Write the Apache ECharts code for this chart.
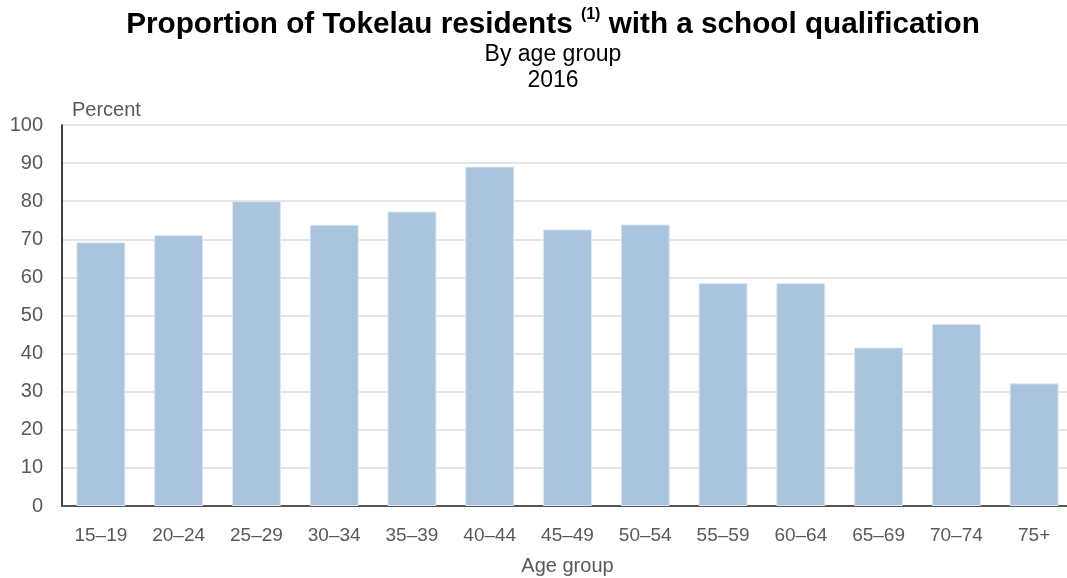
<!DOCTYPE html>
<html>
<head>
<meta charset="utf-8">
<script src="https://cdn.jsdelivr.net/npm/echarts@6/dist/echarts.min.js"></script>
<style>
  html, body { margin: 0; padding: 0; background: #fff; }
  #main { width: 1067px; height: 578px; }
</style>
</head>
<body>
<div id="main"></div>
<script>
var ageGroups = ['15–19', '20–24', '25–29', '30–34', '35–39', '40–44', '45–49', '50–54', '55–59', '60–64', '65–69', '70–74', '75+'];
var percents = [69.2, 71.1, 80.0, 73.8, 77.3, 89.1, 72.6, 73.9, 58.5, 58.5, 41.6, 47.8, 32.2];
var yTicks = [0, 10, 20, 30, 40, 50, 60, 70, 80, 90, 100];

var myChart = echarts.init(document.getElementById('main'));
var font = 'Liberation Sans, Arial, sans-serif';

myChart.setOption({
  animation: false,
  textStyle: { fontFamily: font },
  title: [{
    text: '{t|Proportion of Tokelau residents }{s|(1)}{t| with a school qualification}',
    left: 548,
    textAlign: 'center',
    top: 2,
    textStyle: {
      rich: {
        t: { fontFamily: font, fontSize: 29.7, fontWeight: 'bold', color: '#000', verticalAlign: 'bottom', height: 36 },
        s: { fontFamily: font, fontSize: 16, fontWeight: 'bold', color: '#000', verticalAlign: 'top', padding: [0, 0, 14, 0] }
      }
    }
  }, {
    text: 'By age group\n2016',
    left: 548,
    textAlign: 'center',
    top: 37,
    textStyle: { fontFamily: font, fontSize: 23, fontWeight: 'normal', color: '#000', lineHeight: 26 }
  }],
  grid: { left: 62, top: 125, width: 1011, height: 381, outerBoundsMode: 'none' },
  xAxis: {
    type: 'category',
    data: ageGroups,
    name: 'Age group',
    nameLocation: 'middle',
    nameGap: 50,
    nameTextStyle: { fontSize: 20, color: '#595959' },
    axisLine: { lineStyle: { color: '#555', width: 2 } },
    axisTick: { show: false },
    axisLabel: { fontSize: 19, color: '#595959', margin: 20 }
  },
  yAxis: {
    type: 'value',
    min: yTicks[0],
    max: yTicks[yTicks.length - 1],
    interval: 10,
    name: 'Percent',
    nameLocation: 'end',
    nameGap: 5,
    nameTextStyle: { fontSize: 20, color: '#595959', align: 'left', padding: [0, 0, 0, 10] },
    axisLine: { show: true, lineStyle: { color: '#000', width: 1.5 } },
    axisTick: { show: false },
    axisLabel: { fontSize: 20, color: '#595959', margin: 19 },
    splitLine: { lineStyle: { color: '#dcdcdc', width: 1.5 } }
  },
  series: [{
    type: 'bar',
    data: percents,
    barCategoryGap: '37%',
    itemStyle: { color: '#abc4de', borderColor: '#dce7f3', borderWidth: 1 }
  }]
});
</script>
</body>
</html>
